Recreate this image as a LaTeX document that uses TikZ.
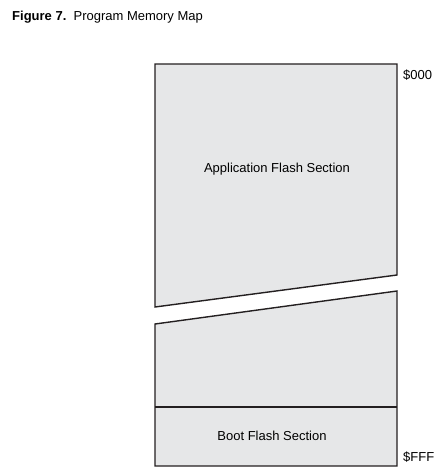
\documentclass[tikz,border=0pt]{standalone}
\usepackage{fontspec}
\setmainfont{Liberation Sans}
\definecolor{memgray}{RGB}{230,231,232}
\definecolor{memline}{RGB}{35,31,32}
\usetikzlibrary{positioning}

\begin{document}
\begin{tikzpicture}[x=1pt, y=-1pt,
    block/.style={draw=memline, fill=memgray, line width=1.4pt, line join=miter},
    divider/.style={draw=memline, line width=1.4pt},
    lbl/.style={font=\fontsize{13}{15}\selectfont, text=black, inner sep=0pt},
    addr/.style={lbl, anchor=west}]
\useasboundingbox (0,0) rectangle (448,475);

\node[lbl, anchor=west] (title) at (12,17) {\textbf{Figure 7.}\ \ Program Memory Map};

% upper part of the map, cut off by the break
\draw[block] (155,64) -- (397,64) -- (397,275) -- (155,307) -- cycle;
% lower part of the map
\draw[block] (155,324) -- (397,291) -- (397,466) -- (155,466) -- cycle;
\coordinate (divl) at (155,407);
\coordinate (divr) at (397,407);
\draw[divider] (divl) -- (divr);

\node[lbl] (app) at (277,169) {Application Flash Section};
\node[lbl] (boot) at (272,436) {Boot Flash Section};
\node[addr] (start) at (403,75) {\$000};
\node[addr] (stop) at (403,457) {\$FFF};
\end{tikzpicture}
\end{document}
